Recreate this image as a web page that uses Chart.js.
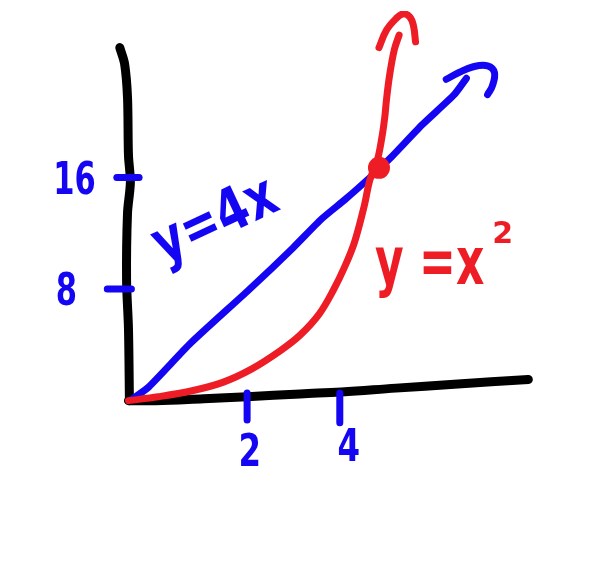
<!DOCTYPE html>
<html>
<head>
<meta charset="utf-8">
<script src="https://cdn.jsdelivr.net/npm/chart.js@4/dist/chart.umd.min.js"></script>
<style>
html,body{margin:0;padding:0;background:#fff;}
#wrap{width:594px;height:580px;}
</style>
</head>
<body>
<div id="wrap"><canvas id="c" width="594" height="580"></canvas></div>
<script>
// ---- data (data units) ----
const yAxisX = [-0.164,-0.073,-0.018,0,0.036,-0.018,-0.036,0,0.018];
const yAxisY = [25.66,24.48,22.03,17.83,15.87,13.64,8.74,5.24,0];
const xAxisX = [0,0.51,1.42,2.24,3.24,4.02,5.05,6.15,7.55];
const xAxisY = [0,0,0.14,0.28,0.49,0.63,0.91,1.19,1.54];

const lineX = [0.055,0.38,1.18,2.27,3.11,3.65,4.09,4.56,4.75,4.96,5.55,6.15,6.38];
const lineY = [0.07,0.98,4.20,8.04,11.12,13.22,14.62,16.22,16.92,17.69,20.07,22.24,23.43];
const lineArrowX = [6.0,6.24,6.51,6.78,6.91,6.87,6.78];
const lineArrowY = [23.36,23.85,24.27,24.34,23.85,22.87,22.24];

const curveX = [0,0.56,1.18,1.78,2.33,2.87,3.24,3.6,3.87,4.09,4.27,4.45,4.56,4.69,4.78,4.84,4.87,4.93,5.02,5.11];
const curveY = [0,0.28,0.70,1.33,2.31,3.64,4.76,6.29,8.04,9.79,11.54,14.13,16.08,17.34,19.02,20.63,21.82,23.64,25.52,26.57];
const curveArrowX = [4.73,4.87,5.05,5.18,5.31,5.38,5.42];
const curveArrowY = [25.66,26.92,27.76,28.11,27.90,27.27,26.08];

const meetX = [4.73];
const meetY = [16.92];

const yTickValues = [16, 8];
const yTickLabels = ["16", "8"];
const yTickMarkX = [[-0.22,0.2],[-0.4,0.055]];
const yTickMarkY = [16.22, 8.11];
const yLabelPos = [[-1.02,15.87],[-1.17,7.83]];

const xTickValues = [2, 4];
const xTickLabels = ["2", "4"];
const xTickMarkX = [2.24, 3.99];
const xTickMarkY = [[0.56,-1.40],[0.56,-1.61]];
const xLabelPos = [[2.29,-3.92],[4.16,-3.57]];

const lineLabel = "y=4x";
const lineLabelPos = [1.65, 12.94];
const curveLabel = "y =x";
const curveLabelExp = "2";
const curveLabelPos = [5.96, 10.0];

// ---- styles ----
const BLUE = '#1405f2';
const RED = '#ee1c25';
const BLACK = '#000000';

const pts = (xs, ys) => xs.map((x, i) => ({x, y: ys[i]}));

function lineDs(data, color, width, order, tension) {
  return {
    type: 'scatter', data, showLine: true, borderColor: color, backgroundColor: color,
    borderWidth: width, pointRadius: 0, pointHoverRadius: 0, tension: tension,
    borderCapStyle: 'round', borderJoinStyle: 'round', order: order, fill: false
  };
}

const datasets = [
  lineDs(pts(yAxisX, yAxisY), BLACK, 9, 5, 0.3),
  lineDs(pts(xAxisX, xAxisY), BLACK, 9, 5, 0.4),
  lineDs(pts(lineX, lineY), BLUE, 7, 3, 0.2),
  lineDs(pts(lineArrowX, lineArrowY), BLUE, 7, 3, 0.4),
  lineDs(pts(curveX, curveY), RED, 7, 2, 0.35),
  lineDs(pts(curveArrowX, curveArrowY), RED, 7, 2, 0.4),
];
yTickMarkY.forEach((y, i) => {
  datasets.push(lineDs([{x: yTickMarkX[i][0], y}, {x: yTickMarkX[i][1], y}], BLUE, 7, 4, 0));
});
xTickMarkX.forEach((x, i) => {
  datasets.push(lineDs([{x, y: xTickMarkY[i][0]}, {x, y: xTickMarkY[i][1]}], BLUE, 7, 4, 0));
});
datasets.push({
  type: 'scatter', data: pts(meetX, meetY), pointRadius: 11, pointHoverRadius: 11,
  backgroundColor: RED, borderColor: RED, borderWidth: 0, order: 0
});

const textPlugin = {
  id: 'sketchText',
  afterDatasetsDraw(chart) {
    const {ctx, scales: {x: xs, y: ys}} = chart;
    const font = (s) => `bold ${s}px "DejaVu Sans", sans-serif`;
    function draw(text, px, py, size, sx, sy, rot, color) {
      ctx.save();
      ctx.translate(px, py);
      if (rot) ctx.rotate(rot * Math.PI / 180);
      ctx.scale(sx, sy);
      ctx.font = font(size);
      ctx.fillStyle = color;
      ctx.textAlign = 'center';
      ctx.textBaseline = 'middle';
      ctx.fillText(text, 0, 0);
      ctx.restore();
    }
    yTickLabels.forEach((t, i) => {
      draw(t, xs.getPixelForValue(yLabelPos[i][0]), ys.getPixelForValue(yLabelPos[i][1]), 36, 0.85, 1.25, 0, BLUE);
    });
    xTickLabels.forEach((t, i) => {
      draw(t, xs.getPixelForValue(xLabelPos[i][0]), ys.getPixelForValue(xLabelPos[i][1]), 36, 0.9, 1.25, 0, BLUE);
    });
    draw(lineLabel, xs.getPixelForValue(lineLabelPos[0]), ys.getPixelForValue(lineLabelPos[1]), 44, 1.05, 1.35, -25, BLUE);
    // y = x^2
    const cx = xs.getPixelForValue(curveLabelPos[0]);
    const cy = ys.getPixelForValue(curveLabelPos[1]);
    ctx.save();
    ctx.font = font(44);
    const w1 = ctx.measureText(curveLabel).width;
    ctx.font = font(30);
    const w2 = ctx.measureText(curveLabelExp).width;
    ctx.restore();
    const total = w1 + w2 + 8;
    draw(curveLabel, cx - total / 2 + w1 / 2, cy + 4, 44, 1.0, 1.5, 0, RED);
    draw(curveLabelExp, cx - total / 2 + w1 + 8 + w2 / 2, cy - 28, 30, 1.0, 1.0, 0, RED);
  }
};

const bgPlugin = {
  id: 'bg',
  beforeDraw(chart) {
    const ctx = chart.ctx;
    ctx.save();
    ctx.fillStyle = '#ffffff';
    ctx.fillRect(0, 0, chart.width, chart.height);
    ctx.restore();
  }
};

new Chart(document.getElementById('c'), {
  type: 'scatter',
  data: {datasets},
  options: {
    responsive: false,
    animation: false,
    layout: {padding: 0},
    plugins: {legend: {display: false}, tooltip: {enabled: false}},
    events: [],
    scales: {
      x: {type: 'linear', display: false, min: -2.218, max: 8.582},
      y: {type: 'linear', display: false, min: -12.238, max: 28.322}
    }
  },
  plugins: [bgPlugin, textPlugin]
});
</script>
</body>
</html>
